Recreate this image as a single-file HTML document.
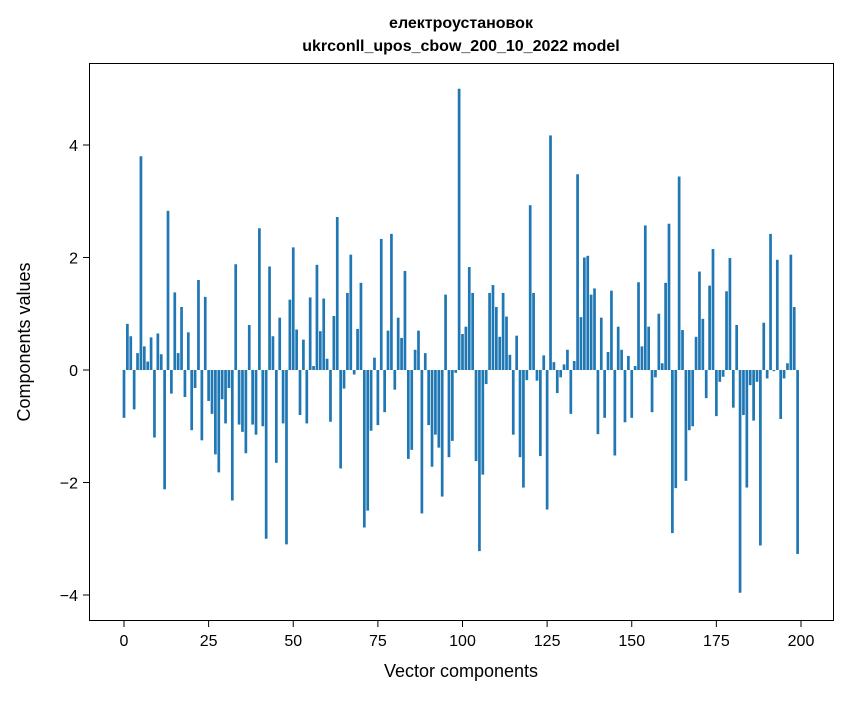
<!DOCTYPE html>
<html><head><meta charset="utf-8"><style>
body{margin:0;background:#fff;}
svg text{font-family:"Liberation Sans","DejaVu Sans",sans-serif;fill:#000;}
</style></head><body>
<svg id="chart" width="847" height="696" viewBox="0 0 847 696">
<rect x="0" y="0" width="847" height="696" fill="#fff"/>
<text x="461" y="28" text-anchor="middle" font-size="16" font-weight="bold">електроустановок</text>
<text x="461" y="51" text-anchor="middle" font-size="16" font-weight="bold">ukrconll_upos_cbow_200_10_2022 model</text>
<g id="bars"></g>
<rect x="89.5" y="63.5" width="744" height="557" fill="none" stroke="#000" stroke-width="1"/>
<g id="xticks"></g>
<g id="yticks"></g>
<text x="461" y="677" text-anchor="middle" font-size="18">Vector components</text>
<text transform="translate(30,342) rotate(-90)" text-anchor="middle" font-size="18">Components values</text>
</svg>
<script>
const values = [-0.85,0.82,0.6,-0.7,0.3,3.8,0.42,0.15,0.58,-1.2,0.65,0.28,-2.12,2.83,-0.42,1.38,0.3,1.12,-0.48,0.67,
-1.07,-0.32,1.6,-1.25,1.3,-0.55,-0.78,-1.5,-1.82,-0.52,-0.95,-0.32,-2.32,1.88,-0.97,-1.1,-1.48,0.8,-0.97,-1.15,
2.52,-1.0,-3.0,1.84,0.6,-1.65,0.93,-0.95,-3.1,1.25,2.18,0.72,-0.8,0.54,-0.95,1.29,0.07,1.87,0.69,1.27,
0.2,-0.92,0.96,2.72,-1.75,-0.33,1.37,2.05,-0.08,0.73,1.55,-2.8,-2.5,-1.08,0.22,-0.98,2.33,-0.75,0.7,2.42,
-0.35,0.93,0.57,1.76,-1.58,-1.42,0.36,0.7,-2.55,0.3,-0.98,-1.72,-1.15,-1.38,-2.25,1.34,-1.55,-1.26,-0.05,5.0,
0.64,0.77,1.83,1.37,-1.62,-3.22,-1.86,-0.25,1.37,1.51,1.12,0.59,1.37,0.95,0.27,-1.15,0.61,-1.55,-2.09,-0.18,
2.93,1.37,-0.19,-1.53,0.26,-2.48,4.17,0.14,-0.41,-0.13,0.1,0.36,-0.78,0.16,3.48,0.94,2.0,2.03,1.34,1.45,
-1.14,0.93,-0.85,0.32,1.41,-1.52,0.77,0.36,-0.93,0.25,-0.85,0.07,1.56,0.42,2.57,0.77,-0.75,-0.13,1.0,0.12,
1.55,2.6,-2.9,-2.1,3.44,0.71,-1.97,-1.07,-1.0,0.59,1.75,0.91,-0.5,1.5,2.15,-0.82,-0.21,-0.12,1.4,1.99,
-0.67,0.8,-3.96,-0.8,-2.09,-0.27,-0.9,-0.21,-3.12,0.84,-0.15,2.42,-0.02,1.96,-0.87,-0.15,0.12,2.05,1.12,-3.27];
const xTickLabels = [0,25,50,75,100,125,150,175,200];
const yTickLabels = [-4,-2,0,2,4];

const NS = "http://www.w3.org/2000/svg";
const xScale = v => 124 + (v) * (801 - 124) / 200;
const yScale = v => 370 - v * 56.25;
const barW = 0.8 * (801 - 124) / 200;

const bars = document.getElementById('bars');
values.forEach((v, i) => {
  const r = document.createElementNS(NS, 'rect');
  const y0 = yScale(0), y1 = yScale(v);
  r.setAttribute('x', xScale(i) - barW / 2);
  r.setAttribute('y', Math.min(y0, y1));
  r.setAttribute('width', barW);
  r.setAttribute('height', Math.abs(y1 - y0));
  r.setAttribute('fill', '#1f77b4');
  
  
  bars.appendChild(r);
});

const xt = document.getElementById('xticks');
xTickLabels.forEach(t => {
  const x = xScale(t);
  const l = document.createElementNS(NS, 'line');
  l.setAttribute('x1', x); l.setAttribute('x2', x);
  l.setAttribute('y1', 620.5); l.setAttribute('y2', 627);
  l.setAttribute('stroke', '#000');
  
  
  xt.appendChild(l);
  const tx = document.createElementNS(NS, 'text');
  tx.setAttribute('x', x); tx.setAttribute('y', 646);
  tx.setAttribute('text-anchor', 'middle');
  tx.setAttribute('font-size', '16');
  tx.textContent = t;
  
  
  xt.appendChild(tx);
});

const yt = document.getElementById('yticks');
yTickLabels.forEach(t => {
  const y = yScale(t);
  const l = document.createElementNS(NS, 'line');
  l.setAttribute('x1', 83); l.setAttribute('x2', 89.5);
  l.setAttribute('y1', y); l.setAttribute('y2', y);
  l.setAttribute('stroke', '#000');
  
  
  yt.appendChild(l);
  const tx = document.createElementNS(NS, 'text');
  tx.setAttribute('x', 78); tx.setAttribute('y', y + 6);
  tx.setAttribute('text-anchor', 'end');
  tx.setAttribute('font-size', '16');
  tx.textContent = t < 0 ? '\u2212' + Math.abs(t) : String(t);
  
  
  yt.appendChild(tx);
});
</script>
</body></html>
